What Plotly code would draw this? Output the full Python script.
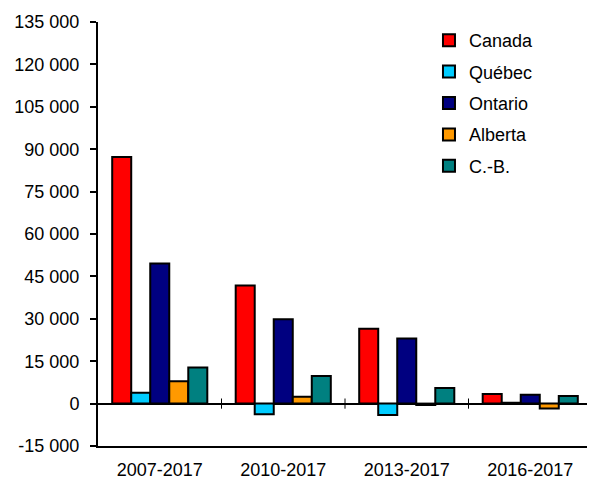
import plotly.graph_objects as go

periods = ["2007-2017", "2010-2017", "2013-2017", "2016-2017"]
canada = [87200, 41800, 26500, 3400]
quebec = [3800, -3800, -4000, 300]
ontario = [49600, 29800, 23000, 3100]
alberta = [7900, 2400, -500, -1700]
cb = [12800, 9800, 5500, 2700]

y_ticks = list(range(-15000, 135001, 15000))
y_labels = [f"{v:,}".replace(",", " ") for v in y_ticks]

series = [
    ("Canada", canada, "#FF0000"),
    ("Québec", quebec, "#00CCFF"),
    ("Ontario", ontario, "#000080"),
    ("Alberta", alberta, "#FF9900"),
    ("C.-B.", cb, "#008080"),
]

fig = go.Figure()
for name, vals, col in series:
    fig.add_trace(go.Bar(
        x=periods, y=vals, name=name, legendgroup=name,
        marker=dict(color=col, line=dict(color="black", width=2)),
    ))

# small tick marks on the zero line between categories
for i in range(len(periods)):
    fig.add_shape(type="line", xref="x", yref="y domain",
                  x0=i + 0.5, x1=i + 0.5, y0=0.088, y1=0.112,
                  line=dict(color="black", width=1))

# page body adds 8px offset, so the figure is a bit smaller
fig.update_layout(
    width=587, height=473,
    margin=dict(l=90, r=3, t=14, b=35, autoexpand=False),
    paper_bgcolor="white", plot_bgcolor="white",
    font=dict(family="Liberation Sans, Arial", size=18, color="black"),
    barmode="group", bargap=0.23, bargroupgap=0,
    showlegend=True,
    legend=dict(x=0.67, y=1.0, xanchor="left", yanchor="top",
                bgcolor="rgba(0,0,0,0)", tracegroupgap=5,
                font=dict(size=18), itemwidth=30),
    xaxis=dict(showline=True, linecolor="black", linewidth=2,
               ticks="", showgrid=False, tickfont=dict(size=18),
               range=[-0.5, 3.5], automargin=False, ticklabelstandoff=6),
    yaxis=dict(range=[-15000, 135000], tickmode="array", tickvals=y_ticks,
               ticktext=y_labels, showline=True,
               linecolor="black", linewidth=2, ticks="outside",
               ticklen=6, tickwidth=1.5, tickcolor="black",
               showgrid=False, zeroline=True, zerolinecolor="black",
               zerolinewidth=2, tickfont=dict(size=18), automargin=False,
               ticklabelstandoff=7),
)

fig.write_html("out.html")
